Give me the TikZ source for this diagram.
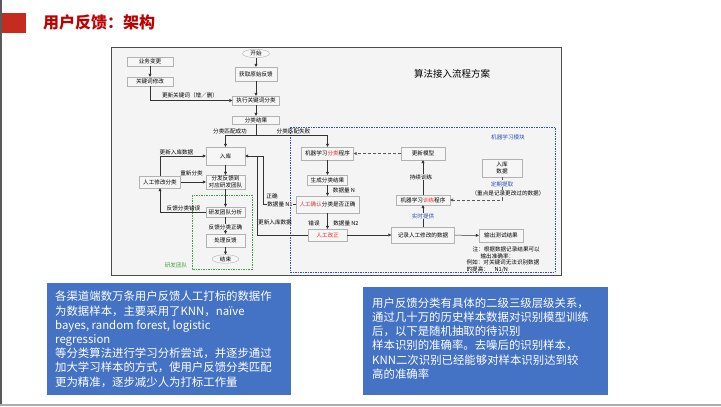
\documentclass[tikz,border=0pt]{standalone}
\usepackage{fontspec}
\setmainfont{Noto Sans CJK SC}
\usepackage{tikz}
\usetikzlibrary{shapes.geometric,arrows.meta}
\definecolor{slidered}{HTML}{C00000}
\definecolor{barred}{HTML}{C62B20}
\definecolor{panel}{HTML}{4472C4}
\definecolor{chartbg}{HTML}{F4F4F4}
\definecolor{mlblue}{HTML}{2F4FC0}
\definecolor{rdgreen}{HTML}{3AA63A}
\definecolor{hot}{HTML}{E8322C}
\newcommand\chartfont{\fontsize{5.6}{7.4}\selectfont}
\tikzset{
  box/.style={rectangle,draw=gray!60,fill=white!93!gray,inner sep=0.5pt,
    align=center,font=\chartfont},
  term/.style={ellipse,draw=gray!60,fill=white!93!gray,inner sep=0pt,
    font=\chartfont,minimum width=27pt,minimum height=8.5pt},
  lbl/.style={inner sep=0.4pt,font=\chartfont},
  onln/.style={lbl,fill=chartbg},
  fl/.style={-{Triangle[length=3pt,width=3pt]},draw=black!80,line width=0.5pt},
  dfl/.style={fl,densely dashed,draw=gray!70!black},
  notetext/.style={anchor=west,inner sep=0pt,text=white,align=left,
    font=\fontsize{11.4}{14.2}\selectfont},
}
\begin{document}
\begin{tikzpicture}[x=1pt,y=-1pt]
  \useasboundingbox (0,0) rectangle (721,407);
  \fill[white] (0,0) rectangle (721,407);
  \draw[gray!70!black,line width=1.2pt] (1,0) -- (1,405);
  \draw[gray!65,line width=1.6pt] (0,405.2) -- (721,405.2);
  \fill[barred] (2,13) rectangle (26,33);
  \node[anchor=west,inner sep=0,text=slidered,font=\fontsize{16}{18}\selectfont\bfseries] (title) at (43,22) {用户反馈：架构};

  \draw[gray!60!black,line width=0.8pt,fill=chartbg] (111,47) rectangle (561,275);
  \node[font=\fontsize{9.5}{11}\selectfont] (charttitle) at (452,74) {算法接入流程方案};
  \draw[rdgreen,dash pattern=on 1.5pt off 1pt,line width=0.7pt] (192,195) rectangle (252,269);
  \draw[mlblue,dash pattern=on 1.5pt off 1pt,line width=0.7pt] (290,127) rectangle (555,272);

  \node[term] (start) at (256,53.5) {开始};
  \node[box,minimum width=46pt,minimum height=9pt] (biz) at (150,61.5) {业务变更};
  \node[box,minimum width=46pt,minimum height=9pt] (kwedit) at (150,81.5) {关键词修改};
  \node[box,minimum width=42pt,minimum height=14pt] (fetch) at (256,74) {获取原始反馈};
  \node[box,minimum width=47pt,minimum height=9pt] (kwcls) at (256,100.5) {执行关键词分类};
  \node[box,minimum width=47pt,minimum height=8pt] (result) at (256,120) {分类结果};
  \node[box,minimum width=39pt,minimum height=18pt] (store) at (225.5,156) {入库};
  \node[box,minimum width=41pt,minimum height=12pt] (manual) at (160,182) {人工修改分类};
  \node[box,minimum width=39pt,minimum height=14pt] (dispatch) at (225.5,182) {分发反馈到\\对应研发团队};
  \node[box,minimum width=39pt,minimum height=10pt] (analyse) at (225.5,212) {研发团队分析};
  \node[box,minimum width=39pt,minimum height=13pt] (handle) at (225.5,240.5) {处理反馈};
  \node[term] (stop) at (225.5,259) {结束};
  \node[box,minimum width=52pt,minimum height=13pt] (mlcls) at (327.5,153.5) {机器学习\textcolor{hot}{分类}程序};
  \node[box,minimum width=40pt,minimum height=10pt] (gen) at (327.5,180) {生成分类结果};
  \node[box,minimum width=63pt,minimum height=17pt] (check) at (327.5,204.5) {\textcolor{hot}{人工确认}分类是否正确};
  \node[box,minimum width=39pt,minimum height=12pt] (fix) at (327.5,235) {\textcolor{hot}{人工改正}};
  \node[box,minimum width=44pt,minimum height=13pt] (upd) at (423,153.5) {更新模型};
  \node[box,minimum width=54pt,minimum height=10pt] (mltrain) at (423,200) {机器学习\textcolor{hot}{训练}程序};
  \node[box,minimum width=63pt,minimum height=16pt] (record) at (423,235) {记录人工修改的数据};
  \node[box,minimum width=44pt,minimum height=13pt] (out) at (501,235.5) {输出测试结果};
  \node[box,minimum width=40pt,minimum height=18pt] (newdata) at (502,168) {入库\\数据};

  \coordinate (split) at (256,135);
  \coordinate (join) at (263,156);
  \coordinate (join2) at (257,156);
  \draw[fl] (start) -- (fetch);
  \draw[fl] (fetch) -- (kwcls);
  \draw[fl] (kwcls) -- (result);
  \draw[fl] (biz) -- (kwedit);
  \draw[fl] (kwedit) |- (kwcls);
  \draw[fl] (result) -- (split) -| (store);
  \draw[fl] (split) -| (mlcls);
  \draw[fl] (store) -- (dispatch);
  \draw[fl] (dispatch) -- (analyse);
  \draw[fl] (analyse) -- (handle);
  \draw[fl] (handle) -- (stop);
  \draw[fl] (manual) |- (store);
  \draw[fl] (manual) -- (dispatch);
  \draw[fl] (analyse) -| (manual);
  \draw[fl] (check) -| (join) -- (store);
  \draw[draw=black!80,line width=0.5pt] (fix) -| (join2);
  \draw[fl] (mlcls) -- (gen);
  \draw[fl] (gen) -- (check);
  \draw[fl] (check) -- (fix);
  \draw[fl] (fix) -- (record);
  \draw[fl] (record) -- (out);
  \draw[fl] (record) -- (mltrain);
  \draw[fl] (mltrain) -- (upd);
  \draw[dfl] (upd) -- (mlcls);
  \draw[dfl] (newdata) |- (mltrain);

  \node[lbl] (l1) at (190,95) {更新关键词（增／删）};
  \node[lbl] (l2) at (230,131) {分类匹配成功};
  \node[lbl] (l3) at (293.5,131) {分类匹配失败};
  \node[lbl] (l4) at (176.5,152) {更新入库数据};
  \node[lbl] (l5) at (191.5,173.5) {重新分类};
  \node[lbl] (l6) at (183.5,208) {反馈分类错误};
  \node[onln] (l7) at (225.5,227) {反馈分类正确};
  \node[lbl] (l8) at (272,196) {正确};
  \node[onln] (l9) at (280,204.5) {数据量 N1};
  \node[lbl] (l10) at (275,222) {更新入库数据};
  \node[lbl] (l11) at (344,190) {数据量 N};
  \node[lbl] (l12) at (314,223) {错误};
  \node[lbl] (l13) at (346,223) {数据量 N2};
  \node[onln] (l14) at (421,177) {持续训练};
  \node[onln,text=mlblue] (l15) at (423,216) {实时提供};
  \node[onln,text=mlblue] (l16) at (502,184) {定期提取};
  \node[onln] (l17) at (508,193) {（重点是记录更改过的数据）};
  \node[lbl,text=mlblue] (l18) at (508,137) {机器学习模块};
  \node[lbl,text=rdgreen] (l19) at (176,265) {研发团队};
  \node[lbl,anchor=north west,align=left,font=\fontsize{5.6}{6.7}\selectfont] (note) at (466,246) {\hspace{6pt}注：根据数据记录结果可以\\\hspace{14pt}输出准确率：\\例如：对关键词无法识别数据\\的提高：\quad N1/N};

  \fill[panel] (47,283) rectangle (291,395);
  \node[notetext] (leftnote) at (55,339.2) {各渠道端数万条用户反馈人工打标的数据作\\为数据样本，主要采用了KNN，naïve\\bayes, random forest, logistic\\regression\\等分类算法进行学习分析尝试，并逐步通过\\加大学习样本的方式，使用户反馈分类匹配\\更为精准，逐步减少人为打标工作量};
  \fill[panel] (363,287) rectangle (608,395);
  \node[notetext] (rightnote) at (372,338.5) {用户反馈分类有具体的二级三级层级关系，\\通过几十万的历史样本数据对识别模型训练\\后，以下是随机抽取的待识别\\样本识别的准确率。去噪后的识别样本，\\KNN二次识别已经能够对样本识别达到较\\高的准确率};
\end{tikzpicture}
\end{document}
